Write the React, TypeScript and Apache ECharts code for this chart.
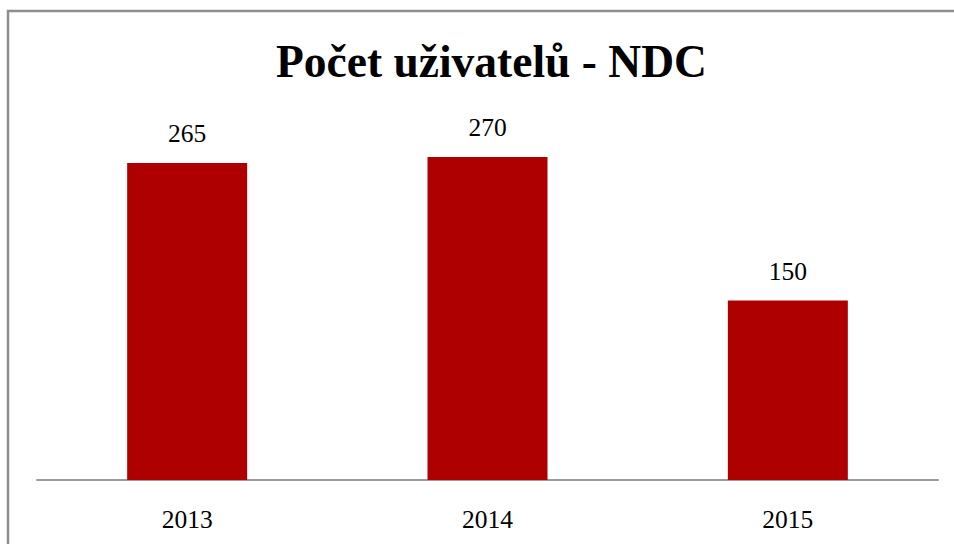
import React, { useEffect, useRef } from "react";
import * as echarts from "echarts";

const categories: string[] = ["2013", "2014", "2015"];
const users: number[] = [265, 270, 150];
const chartTitle = "Počet uživatelů - NDC";

export default function App() {
  const ref = useRef<HTMLDivElement>(null);
  useEffect(() => {
    if (!ref.current) return;
    const chart = echarts.init(ref.current, undefined, { renderer: "svg" });
    const font = "'Liberation Serif', 'Times New Roman', serif";
    chart.setOption({
      animation: false,
      backgroundColor: "#ffffff",
      title: {
        text: chartTitle,
        left: 271,
        top: 33,
        textStyle: { fontFamily: font, fontWeight: "bold", fontSize: 45.5, color: "#000" },
      },
      graphic: [
        {
          type: "rect",
          shape: { x: 8, y: 11, width: 980, height: 600 },
          style: { fill: "none", stroke: "#8e8e8e", lineWidth: 2.5 },
          silent: true,
        },
      ],
      grid: { left: 37, right: 16, top: 121, bottom: 64, containLabel: false },
      xAxis: {
        type: "category",
        data: categories,
        axisLine: { show: true, lineStyle: { color: "#9a9a9a", width: 2 } },
        axisTick: { show: false },
        axisLabel: { fontFamily: font, fontSize: 25.5, color: "#000", margin: 26 },
      },
      yAxis: {
        type: "value",
        min: 0,
        max: 300,
        show: false,
        splitLine: { show: false },
      },
      series: [
        {
          type: "bar",
          data: users,
          barWidth: 120,
          itemStyle: { color: "#ae0000" },
          label: {
            show: true,
            position: "top",
            distance: 16,
            fontFamily: font,
            fontSize: 25.5,
            color: "#000",
          },
        },
      ],
    });
    return () => chart.dispose();
  }, []);
  return (
    <div
      ref={ref}
      style={{ position: "fixed", left: 0, top: 0, width: 954, height: 544 }}
    />
  );
}
